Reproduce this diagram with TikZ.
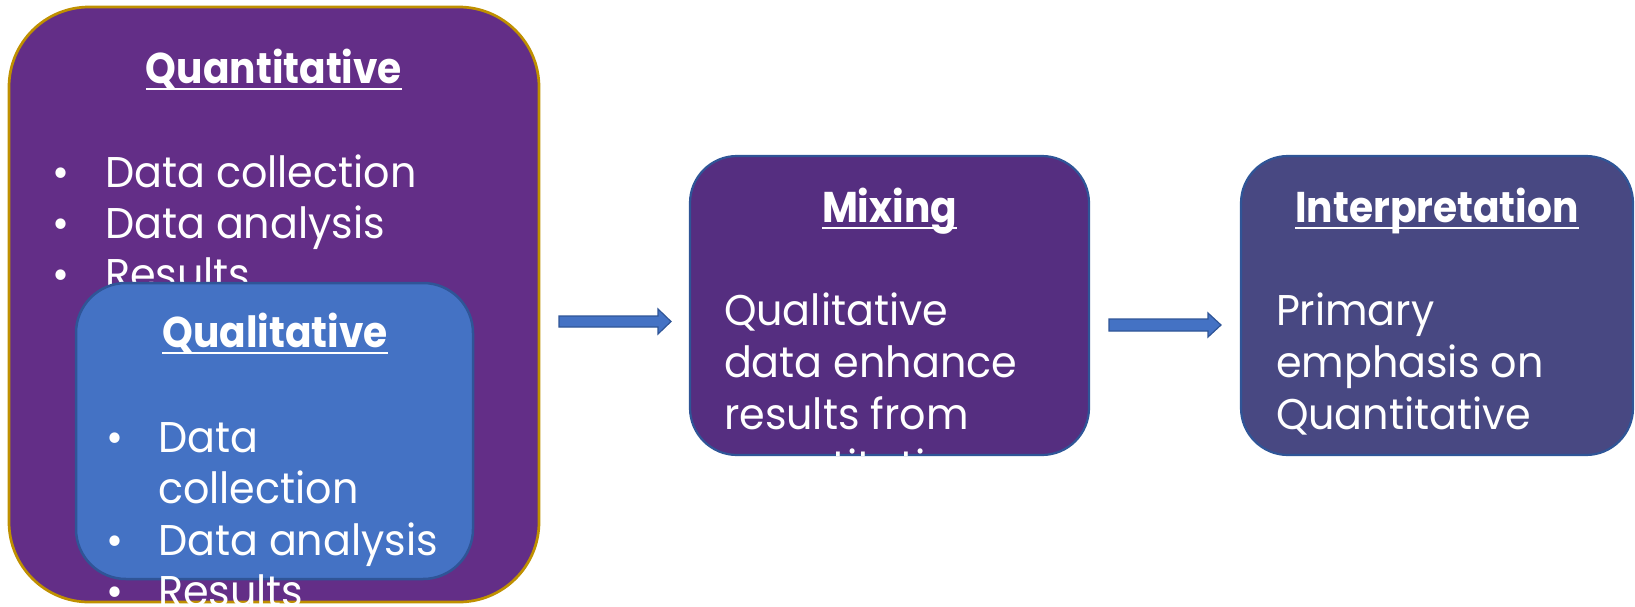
\documentclass[tikz,border=0pt]{standalone}
\usepackage{fontspec}
\setmainfont{Poppins}[FakeStretch=0.96, BoldFeatures={FakeStretch=0.91}]
\definecolor{quantfill}{HTML}{632E87}
\definecolor{goldline}{HTML}{BF9000}
\definecolor{qualfill}{HTML}{4472C4}
\definecolor{blueline}{HTML}{2F5597}
\definecolor{mixfill}{HTML}{552E80}
\definecolor{interfill}{HTML}{484882}
\newcommand\ulin[1]{\setbox0=\hbox{#1}\rlap{\rule[-7pt]{\wd0}{2.5pt}}\box0}
\begin{document}
\begin{tikzpicture}[x=1pt,y=-1pt,
  card/.style={rectangle, inner sep=0pt, outer sep=0pt},
  txt/.style={text=white, inner sep=0pt, outer sep=0pt, font=\fontsize{43}{51}\selectfont},
  ttl/.style={txt, anchor=base, font=\fontsize{43}{51}\selectfont\bfseries},
  ln/.style={txt, anchor=base west},
  dot/.style={txt, anchor=base},
  blockarrow/.style={fill=qualfill, draw=blueline, line width=1.2pt, line join=miter}]
\useasboundingbox (0,0) rectangle (1635,606);
% Quantitative
\node[card, fill=quantfill, draw=goldline, line width=2.7pt, rounded corners=80pt,
      minimum width=530pt, minimum height=595pt] (quant) at (274,304.5) {};
\node[ttl] (quantT) at (274,83) {\ulin{Quantitative}};
\node[dot] (qb1) at (61,187) {\textbullet};
\node[ln]  (ql1) at (105,187) {Data collection};
\node[dot] (qb2) at (61,238) {\textbullet};
\node[ln]  (ql2) at (105,238) {Data analysis};
\node[dot] (qb3) at (61,289) {\textbullet};
\node[ln]  (ql3) at (105,289) {Results};
% Qualitative
\node[card, fill=qualfill, draw=blueline, line width=2.5pt, rounded corners=50pt,
      minimum width=397pt, minimum height=296pt] (qual) at (274.5,431) {};
\node[ttl] (qualT) at (275,347) {\ulin{Qualitative}};
\node[dot] (lb1) at (115,452) {\textbullet};
\node[ln]  (ll1) at (158,452) {Data};
\node[ln]  (ll2) at (158,503.5) {collection};
\node[dot] (lb3) at (115,555) {\textbullet};
\node[ln]  (ll3) at (158,555) {Data analysis};
\node[dot] (lb4) at (115,606.5) {\textbullet};
\node[ln]  (ll4) at (158,606.5) {Results};
% Arrows
\draw[blockarrow] (559,316) -- (658,316) -- (658,309) -- (671,321.5) -- (658,334) -- (658,327) -- (559,327) -- cycle;
\draw[blockarrow] (1109,319) -- (1208,319) -- (1208,313) -- (1221,325) -- (1208,337) -- (1208,331) -- (1109,331) -- cycle;
% Mixing
\node[card, fill=mixfill, draw=blueline, line width=2.2pt, rounded corners=47pt,
      minimum width=399pt, minimum height=299pt] (mix) at (889.5,305.5) {};
\node[ttl] (mixT) at (889.5,222) {\ulin{Mixing}};
\begin{scope}
\clip[rounded corners=47pt] (mix.north west) rectangle (mix.south east);
\node[ln] (m1) at (724,325) {Qualitative};
\node[ln] (m2) at (724,377) {data enhance};
\node[ln] (m3) at (724,429) {results from};
\node[ln] (m4) at (724,481) {quantitative};
\end{scope}
% Interpretation
\node[card, fill=interfill, draw=blueline, line width=2.2pt, rounded corners=47pt,
      minimum width=392pt, minimum height=299pt] (inter) at (1437,305.5) {};
\node[ttl] (interT) at (1437,222) {\ulin{Interpretation}};
\node[ln] (i1) at (1276,325) {Primary};
\node[ln] (i2) at (1276,377) {emphasis on};
\node[ln] (i3) at (1276,429) {Quantitative};
\end{tikzpicture}
\end{document}
